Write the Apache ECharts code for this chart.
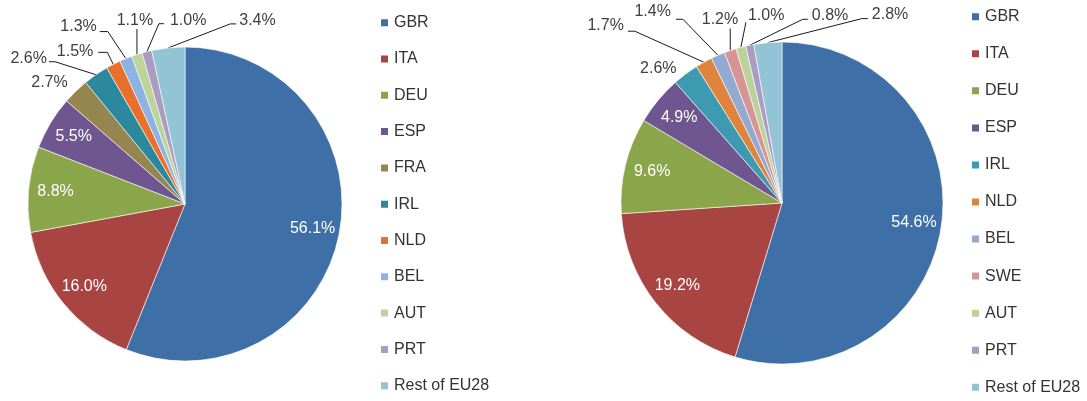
<!DOCTYPE html>
<html>
<head>
<meta charset="utf-8">
<title>EU28 shares</title>
<script src="https://cdn.jsdelivr.net/npm/echarts@6/dist/echarts.min.js"></script>
<style>
  html, body { margin: 0; padding: 0; background: #ffffff; }
  #chart { width: 1087px; height: 401px; }
</style>
</head>
<body>
<div id="chart"></div>
<script>
// Left pie
const leftCategories = ['GBR', 'ITA', 'DEU', 'ESP', 'FRA', 'IRL', 'NLD', 'BEL', 'AUT', 'PRT', 'Rest of EU28'];
const leftValues = [56.1, 16.0, 8.8, 5.5, 2.7, 2.6, 1.5, 1.3, 1.1, 1.0, 3.4];
const leftColors = ['#3e6fa7', '#a84442', '#8ba54b', '#6f5690', '#958650', '#2c899d',
                    '#e8702a', '#8db3e2', '#bcd49a', '#a99bc2', '#93c4d5'];

// Right pie
const rightCategories = ['GBR', 'ITA', 'DEU', 'ESP', 'IRL', 'NLD', 'BEL', 'SWE', 'AUT', 'PRT', 'Rest of EU28'];
const rightValues = [54.6, 19.2, 9.6, 4.9, 2.6, 1.7, 1.4, 1.2, 1.0, 0.8, 2.8];
const rightColors = ['#3e6fa7', '#a84442', '#8ba54b', '#6f5690', '#3e9ab0', '#de843d',
                     '#94a9cf', '#d69594', '#bbd39b', '#a99bc2', '#93c4d5'];

// Slices whose value sits inside the pie
const insideCount = 4;

// Outside label placement, relative to the point where the leader leaves the slice edge:
// t = text anchor offset, a = text alignment, pts = further leader-line bends
const leftOutside = {
  4:  { t: [-8, -8.5],   a: 'right',  pts: [] },
  5:  { t: [-49, -16],   a: 'right',  pts: [[-41, -13], [-47, -13]] },
  6:  { t: [-20, -13],   a: 'right',  pts: [[-6, -12], [-15, -12]] },
  7:  { t: [-29, -32],   a: 'right',  pts: [[-18, -27], [-26, -27]] },
  8:  { t: [-2, -33.5],  a: 'center', pts: [[0, -25.5]] },
  9:  { t: [23, -31],    a: 'left',   pts: [[12, -28], [17, -28]] },
  10: { t: [71, -27],    a: 'left',   pts: [[62, -24], [68, -24]] }
};
const rightOutside = {
  4:  { t: [-9, -5],     a: 'right',  pts: [] },
  5:  { t: [-80, -36.5], a: 'right',  pts: [[-69, -31], [-76, -31]] },
  6:  { t: [-47, -44],   a: 'right',  pts: [[-35, -36], [-42, -36]] },
  7:  { t: [8, -31],     a: 'right',  pts: [[0, -22]] },
  8:  { t: [7, -32],     a: 'left',   pts: [[5, -25]] },
  9:  { t: [62, -30],    a: 'left',   pts: [[53, -26], [58, -26]] },
  10: { t: [104, -28],   a: 'left',   pts: [[94, -24], [100, -24]] }
};

const FONT = '"Liberation Sans", Arial, sans-serif';
const fmt = v => v.toFixed(1) + '%';

function pieData(cats, vals, cols, showFn) {
  return cats.map((name, i) => ({
    name: name,
    value: vals[i],
    itemStyle: { color: cols[i] },
    label: { show: showFn(i) }
  }));
}

function outsideLayout(table) {
  return function (params) {
    const cfg = table[params.dataIndex];
    if (!cfg || !params.labelLinePoints) return {};
    const p = params.labelLinePoints[0];
    const pts = [p].concat(cfg.pts.map(d => [p[0] + d[0], p[1] + d[1]]));
    if (pts.length === 1) pts.push(p);
    return {
      x: p[0] + cfg.t[0],
      y: p[1] + cfg.t[1],
      align: cfg.a,
      verticalAlign: 'middle',
      labelLinePoints: pts
    };
  };
}

function mainPie(center, radius, cats, vals, cols, table) {
  return {
    type: 'pie',
    center: center,
    radius: radius,
    startAngle: 90,
    clockwise: true,
    avoidLabelOverlap: false,
    silent: true,
    data: pieData(cats, vals, cols, i => i >= insideCount),
    itemStyle: { borderColor: '#ffffff', borderWidth: 0.6 },
    label: {
      position: 'outside',
      color: '#404040',
      fontFamily: FONT,
      fontSize: 16,
      formatter: p => fmt(p.value)
    },
    labelLine: {
      show: true,
      length: 8,
      length2: 6,
      smooth: false,
      minTurnAngle: 0,
      maxSurfaceAngle: 180,
      lineStyle: { color: '#1a1a1a', width: 1 }
    },
    labelLayout: outsideLayout(table),
    emphasis: { disabled: true }
  };
}

// Transparent ring carrying the in-slice value labels
function valueRing(center, inner, outer, cats, vals) {
  return {
    type: 'pie',
    center: center,
    radius: [inner, outer],
    startAngle: 90,
    clockwise: true,
    silent: true,
    avoidLabelOverlap: false,
    data: pieData(cats, vals, cats.map(() => 'rgba(0,0,0,0)'), i => i < insideCount),
    itemStyle: { borderWidth: 0 },
    label: {
      position: 'inside',
      color: '#ffffff',
      fontFamily: FONT,
      fontSize: 16,
      formatter: p => fmt(p.value)
    },
    labelLine: { show: false },
    emphasis: { disabled: true }
  };
}

function legendFor(left, top, gap, cats, cols) {
  return {
    orient: 'vertical',
    left: left,
    top: top,
    padding: 0,
    itemGap: gap,
    itemWidth: 9,
    itemHeight: 9,
    icon: 'rect',
    selectedMode: false,
    textStyle: { fontFamily: FONT, fontSize: 16, lineHeight: 16, color: '#333333' },
    data: cats.map((name, i) => ({ name: name, itemStyle: { color: cols[i] } }))
  };
}

const chart = echarts.init(document.getElementById('chart'), null, { renderer: 'canvas' });
chart.setOption({
  animation: false,
  backgroundColor: '#ffffff',
  legend: [
    legendFor(379, 14.7, 20.3, leftCategories, leftColors),
    legendFor(970, 8.7, 21.06, rightCategories, rightColors)
  ],
  series: [
    mainPie([185, 204], 157, leftCategories, leftValues, leftColors, leftOutside),
    mainPie([782, 203], 161, rightCategories, rightValues, rightColors, rightOutside),
    valueRing([185, 204], 97, 157, leftCategories, leftValues),
    valueRing([782, 203], 100, 161, rightCategories, rightValues)
  ]
});
</script>
</body>
</html>
